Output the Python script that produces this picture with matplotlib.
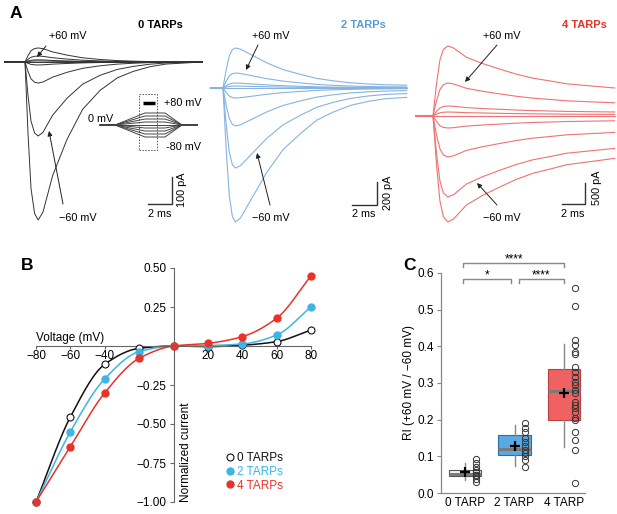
import numpy as np
import matplotlib
matplotlib.use('Agg')
import matplotlib.pyplot as plt
from matplotlib.patches import Rectangle

plt.rcParams['font.family'] = ['Liberation Sans', 'DejaVu Sans']
plt.rcParams['axes.unicode_minus'] = True

W, H = 617, 514

# ---------------- data ----------------
voltages = [-80, -60, -40, -20, 0, 20, 40, 60, 80]

# A: peak current of each trace (pA), same order as voltages
peak_0 = [-585, -274, -78, -11, 0, 4, 8, 22, 52]
peak_2 = [-1165, -696, -330, -87, 0, 17, 43, 130, 348]
peak_4 = [-2524, -1929, -976, -286, 0, 95, 238, 786, 1667]

# A: normalised time course (ms, fraction of peak)
t_0 = [-1.7, 0, 0.25, 0.5, 0.8, 1.1, 1.5, 2.3, 3.5, 4.8, 6.25, 7.7, 9.0, 10.4, 11.75, 14.75]
shape_0 = [0, 0, 0.45, 0.8, 0.96, 1.0, 0.95, 0.72, 0.49, 0.30, 0.18, 0.10, 0.06, 0.03, 0.013, 0]
t_2 = [-1.0, 0, 0.25, 0.5, 0.75, 1.0, 1.4, 2.2, 3.5, 4.8, 6.2, 7.5, 8.8, 10.2, 11.6, 13.0, 14.7]
shape_2 = [0, 0, 0.45, 0.8, 0.96, 1.0, 0.97, 0.84, 0.63, 0.46, 0.34, 0.24, 0.18, 0.13, 0.10, 0.08, 0.07]
t_4 = [-1.5, 0, 0.3, 0.6, 0.9, 1.3, 1.8, 2.9, 4.3, 5.8, 7.2, 8.7, 10.2, 11.6, 13.7, 15.8]
shape_4 = [0, 0, 0.45, 0.8, 0.95, 1.0, 0.97, 0.84, 0.75, 0.67, 0.60, 0.54, 0.50, 0.46, 0.43, 0.40]

# B: normalised I-V
iv_0 = [-1.0, -0.455, -0.117, -0.015, 0, -0.004, 0.005, 0.028, 0.103]
iv_2 = [-1.0, -0.55, -0.21, -0.036, 0, 0.003, 0.013, 0.07, 0.252]
iv_4 = [-1.0, -0.645, -0.30, -0.079, 0, 0.017, 0.06, 0.178, 0.45]
iv_4_err = [0, 0, 0, 0, 0, 0, 0, 0.005, 0.015]

# C: rectification index
groups = ['0 TARP', '2 TARP', '4 TARP']
ri_0 = [0.092, 0.082, 0.071, 0.062, 0.056, 0.050, 0.045, 0.038, 0.030]
ri_2 = [0.19, 0.177, 0.165, 0.15, 0.138, 0.127, 0.118, 0.109, 0.102, 0.089, 0.071]
ri_4 = [0.558, 0.51, 0.417, 0.403, 0.385, 0.38, 0.344, 0.33, 0.317, 0.304, 0.295,
        0.281, 0.274, 0.249, 0.24, 0.231, 0.222, 0.204, 0.199, 0.167, 0.145, 0.118, 0.027]
box_q1 = [0.047, 0.104, 0.199]
box_med = [0.053, 0.12, 0.279]
box_q3 = [0.062, 0.159, 0.338]
whis_lo = [0.036, 0.073, 0.125]
whis_hi = [0.082, 0.186, 0.405]
ri_mean = [0.056, 0.127, 0.274]

black = '#111111'
blue = '#3db5e6'
red = '#e8332b'

fig = plt.figure(figsize=(W / 100, H / 100), dpi=100)


def px_box(l, t, r, b):
    return [l / W, 1 - b / H, (r - l) / W, (b - t) / H]


# ---------------- A: traces ----------------
def trace_panel(box, x0, ppm, base, ppa, t, shape, peaks, color, lw, bar_pa, bar_xy):
    l, tp, r, b = box
    ax = fig.add_axes(px_box(l, tp, r, b))
    ax.set_xlim((l - x0) / ppm, (r - x0) / ppm)
    ax.set_ylim((base - b) / ppa, (base - tp) / ppa)
    ax.axis('off')
    t = np.array(t)
    shape = np.array(shape)
    for pk in peaks:
        ax.plot(t, pk * shape, color=color, lw=lw)
    # scale bar, corner given in pixels
    cx = (bar_xy[0] - x0) / ppm
    cy = (base - bar_xy[1]) / ppa
    ax.plot([cx - 2, cx, cx], [cy, cy, cy + bar_pa], color='#333333', lw=1.0,
            solid_joinstyle='miter')
    return ax


trace_panel((0, 20, 205, 232), 25, 12.0, 62, 0.27, t_0, shape_0, peak_0,
            '#333333', 0.7, 100, (172, 204))
trace_panel((205, 20, 410, 232), 223, 12.5, 88, 0.115, t_2, shape_2, peak_2,
            '#86b3e0', 0.8, 200, (377, 205))
trace_panel((410, 20, 617, 232), 433, 11.5, 116, 0.042, t_4, shape_4, peak_4,
            '#f07272', 0.8, 500, (585, 204))

# voltage protocol inset
ins = fig.add_axes(px_box(98, 88, 200, 155))
ins.set_xlim(-2, 100)
ins.set_ylim(-200, 246.7)
ins.axis('off')
for v in voltages:
    ins.plot([0, 15, 45, 65, 82, 97], [0, 0, v, v, 0, 0], color='#444444', lw=0.7)
ins.add_patch(Rectangle((39, -167), 18, 373, fill=False, ls=(0, (1.5, 1.5)),
                        lw=0.7, ec='#555555'))
ins.plot([43, 55], [147, 147], color='black', lw=2.5, solid_capstyle='butt')

# ---------------- B: I-V ----------------
def pchip(x, y, xs):
    x = np.asarray(x, float)
    y = np.asarray(y, float)
    h = np.diff(x)
    d = np.diff(y) / h
    m = np.zeros_like(y)
    for k in range(1, len(x) - 1):
        if d[k - 1] * d[k] > 0:
            w1 = 2 * h[k] + h[k - 1]
            w2 = h[k] + 2 * h[k - 1]
            m[k] = (w1 + w2) / (w1 / d[k - 1] + w2 / d[k])
    m[0] = d[0]
    m[-1] = d[-1]
    i = np.clip(np.searchsorted(x, xs) - 1, 0, len(h) - 1)
    s = (xs - x[i]) / h[i]
    return ((2 * s**3 - 3 * s**2 + 1) * y[i] + (s**3 - 2 * s**2 + s) * h[i] * m[i]
            + (-2 * s**3 + 3 * s**2) * y[i + 1] + (s**3 - s**2) * h[i] * m[i + 1])


axb = fig.add_axes(px_box(20, 260, 320, 510))
axb.set_xlim(-80 + (20 - 36) / 1.719, -80 + (320 - 36) / 1.719)
axb.set_ylim((346 - 510) / 156, (346 - 260) / 156)
vs = np.linspace(-80, 80, 300)
for iv, c in [(iv_0, black), (iv_2, blue), (iv_4, red)]:
    axb.plot(vs, pchip(voltages, iv, vs), color=c, lw=1.1, zorder=2)
axb.errorbar(voltages, iv_4, yerr=iv_4_err, fmt='none', ecolor=red, elinewidth=1,
             capsize=0, zorder=3)
axb.plot(voltages, iv_0, 'o', ls='none', ms=5, mfc='white', mec=black, mew=0.8,
         label='0 TARPs', zorder=4)
axb.plot(voltages, iv_2, 'o', ls='none', ms=5, mfc=blue, mec=blue, label='2 TARPs', zorder=4)
axb.plot(voltages, iv_4, 'o', ls='none', ms=5, mfc=red, mec=red, label='4 TARPs', zorder=4)

for s in ['top', 'right']:
    axb.spines[s].set_visible(False)
axb.spines['left'].set_position(('data', 0))
axb.spines['bottom'].set_position(('data', 0))
axb.spines['left'].set_bounds(-1.0, 0.5)
axb.spines['bottom'].set_bounds(-80, 80)
for s in ['left', 'bottom']:
    axb.spines[s].set_color('#666666')
    axb.spines[s].set_linewidth(0.8)
axb.set_yticks([0.5, 0.25, 0, -0.25, -0.5, -0.75, -1.0])
axb.set_yticklabels(['0.50', '0.25', '', '−0.25', '−0.50', '−0.75', '−1.00'])
axb.set_xticks(voltages)
axb.set_xticklabels(['−80', '−60', '−40', '', '', '20', '40', '60', '80'])
axb.tick_params(axis='y', length=3, width=0.8, color='#666666', labelsize=8.5, pad=2)
axb.tick_params(axis='x', length=2, width=0.8, color='#666666', labelsize=8.5, pad=1)
leg = axb.legend(loc='upper left', frameon=False,
                 handlelength=0.6, handletextpad=0.35, labelspacing=0.15, fontsize=8.5,
                 borderaxespad=0, borderpad=0)
leg.set_bbox_to_anchor((226 / W, 1 - 452 / H), transform=fig.transFigure)
for txt, c in zip(leg.get_texts(), [black, blue, red]):
    txt.set_color(c)

# ---------------- C: rectification index ----------------
axc = fig.add_axes(px_box(441, 250, 600, 493))
axc.set_xlim(-(465 - 441) / 49.5, (600 - 465) / 49.5)
axc.set_ylim(0, 0.6 + 23 / 366.7)
stats = []
for i in range(3):
    stats.append(dict(q1=box_q1[i], med=box_med[i], q3=box_q3[i],
                      whislo=whis_lo[i], whishi=whis_hi[i], fliers=[]))
face = ['#f4f4f4', '#5aa9e0', '#f06262']
edge = ['#555555', '#2f6e9e', '#b84040']
bp = axc.bxp(stats, positions=[0, 1, 2], widths=0.66, patch_artist=True,
             showcaps=False, showfliers=False,
             medianprops=dict(color='#7a7a7a', lw=2.2),
             whiskerprops=dict(color='#888888', lw=1.0))
for p, fc, ec in zip(bp['boxes'], face, edge):
    p.set_facecolor(fc)
    p.set_edgecolor(ec)
    p.set_linewidth(0.8)
for i, ri in enumerate([ri_0, ri_2, ri_4]):
    axc.plot([i + 0.22] * len(ri), ri, 'o', ls='none', ms=4.5, mfc='none',
             mec='#333333', mew=0.7, zorder=4)
axc.plot([0, 1, 2], ri_mean, '+', ls='none', ms=7, mew=1.6, color='black', zorder=5)

for s in ['top', 'right']:
    axc.spines[s].set_visible(False)
axc.spines['left'].set_bounds(0, 0.6)
axc.spines['bottom'].set_bounds(-(465 - 441) / 49.5, (585 - 465) / 49.5)
for s in ['left', 'bottom']:
    axc.spines[s].set_color('#888888')
    axc.spines[s].set_linewidth(0.9)
axc.set_yticks([0, 0.1, 0.2, 0.3, 0.4, 0.5, 0.6])
axc.set_yticklabels(['0.0', '0.1', '0.2', '0.3', '0.4', '0.5', '0.6'])
axc.set_xticks([0, 1, 2])
axc.set_xticklabels(groups)
axc.tick_params(axis='y', length=3, width=0.8, color='#888888', labelsize=8.5, pad=2)
axc.tick_params(axis='x', length=0, labelsize=8.5, pad=3)


def bracket(x1, x2, y, label):
    d = 0.011
    axc.plot([x1, x1, x2, x2], [y - d, y, y, y - d], color='#888888', lw=1.0,
             clip_on=False)
    axc.text((x1 + x2) / 2, y + 0.002, label, ha='center', va='baseline', fontsize=8.5,
             clip_on=False)


bracket(-0.04, 0.93, (493 - 279) / 366.7, '*')
bracket(1.09, 2.0, (493 - 279) / 366.7, '****')
bracket(-0.04, 2.0, (493 - 263) / 366.7, '****')

# ---------------- overlay for labels (pixel coordinates) ----------------
ov = fig.add_axes([0, 0, 1, 1])
ov.set_xlim(0, W)
ov.set_ylim(H, 0)
ov.axis('off')
ov.patch.set_alpha(0)

fs = 7.8
ov.text(16, 13, 'A', fontsize=12.5, fontweight='bold', ha='center', va='center')
ov.text(27, 265, 'B', fontsize=12.5, fontweight='bold', ha='center', va='center')
ov.text(409, 266, 'C', fontsize=12.5, fontweight='bold', ha='center', va='center')

ov.text(160, 25, '0 TARPs', fontsize=8, fontweight='bold', ha='center', va='center')
ov.text(363, 25, '2 TARPs', fontsize=8, fontweight='bold', ha='center', va='center',
        color='#5b9bd5')
ov.text(584, 25, '4 TARPs', fontsize=8, fontweight='bold', ha='center', va='center',
        color=red)

# +60 / -60 annotations
arrows = [((68, 36), (46, 46), (37, 57), (78, 218), (63, 204), (49, 131)),
          ((271, 36), (258, 45), (246, 70), (271, 218), (270, 205), (257, 153)),
          ((502, 36), (497, 45), (465, 82), (502, 218), (497, 205), (477, 183))]
for tp, ts, th, tn, ns, nh in arrows:
    ov.text(tp[0], tp[1], '+60 mV', fontsize=fs, ha='center', va='center')
    ov.text(tn[0], tn[1], '−60 mV', fontsize=fs, ha='center', va='center')
    for a, b in [(ts, th), (ns, nh)]:
        ov.annotate('', xy=b, xytext=a,
                    arrowprops=dict(arrowstyle='-|>', color='#222222', lw=0.7,
                                    mutation_scale=7, shrinkA=0, shrinkB=0))

# scale bar labels
for x, y, s in [(182, 190, '100 pA'), (388, 193, '200 pA'), (597, 188, '500 pA')]:
    ov.text(x, y, s, fontsize=fs, rotation=90, ha='center', va='center')
for x, y in [(160, 214), (364, 214), (573, 214)]:
    ov.text(x, y, '2 ms', fontsize=fs, ha='center', va='center')

# protocol labels
ov.text(101, 119, '0 mV', fontsize=fs, ha='center', va='center')
ov.text(164, 103, '+80 mV', fontsize=fs, ha='left', va='center')
ov.text(166, 147, '-80 mV', fontsize=fs, ha='left', va='center')

# axis titles
ov.text(70, 338, 'Voltage (mV)', fontsize=8.5, ha='center', va='center')
ov.text(186, 502, 'Normalized current', fontsize=8.5, rotation=90, ha='center', va='bottom')
ov.text(409, 382, 'RI (+60 mV / −60 mV)', fontsize=8.5, rotation=90, ha='center', va='center')

fig.savefig('out.png', dpi=100)
